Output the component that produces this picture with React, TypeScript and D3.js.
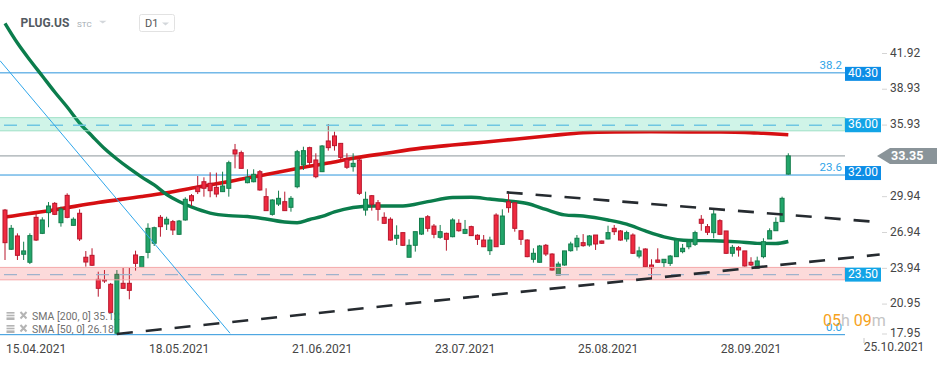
import * as d3 from 'd3';

// daily candles, [open, high, low, close], 08.04.2021 onwards
const candles: number[][] = [
  [28.82, 28.91, 24.64, 26.09], [25.54, 27.57, 25.48, 27.29], [26.65, 26.87, 24.64, 25.03], [25.12, 26.17, 24.64, 25.4],
  [24.45, 26.87, 24.3, 26.68], [28.21, 28.55, 26.23, 26.31], [26.87, 28.21, 26.81, 27.99], [28.6, 29.49, 27.38, 29.16],
  [29.38, 29.49, 28.4, 28.46], [27.76, 29.1, 27.43, 28.91], [30.05, 30.22, 28.13, 28.21], [27.54, 28.21, 27.51, 28.05],
  [28.55, 28.88, 26.23, 26.4], [24.87, 25.39, 24.08, 24.47], [25.03, 25.62, 24.14, 24.2], [23.02, 23.66, 21.57, 22.27],
  [22.97, 23.8, 22.72, 22.93], [22.61, 22.72, 20.2, 20.26], [18.51, 23.8, 18.39, 23.44], [22.69, 23.99, 22.24, 22.27],
  [22.69, 23.97, 21.35, 22.1], [25.06, 25.42, 23.75, 24.36], [24.03, 24.97, 24.0, 24.92], [25.28, 27.71, 24.78, 27.29],
  [26.04, 27.43, 25.81, 27.34], [28.21, 28.4, 26.59, 27.43], [27.65, 28.26, 27.15, 28.05], [27.85, 27.99, 26.73, 27.15],
  [26.79, 27.99, 26.73, 27.9], [27.99, 29.89, 27.93, 29.72], [30.02, 30.16, 29.16, 29.6], [30.77, 31.67, 30.16, 30.36],
  [31.19, 31.56, 29.94, 30.64], [31.06, 31.98, 29.89, 30.44], [30.72, 31.95, 29.89, 30.16], [30.36, 32.03, 30.33, 30.83],
  [30.64, 32.95, 29.94, 32.78], [33.85, 34.35, 32.31, 33.51], [33.62, 33.79, 32.31, 32.31], [31.11, 32.23, 31.06, 31.56],
  [31.19, 32.23, 31.14, 31.81], [32.03, 32.17, 30.44, 30.5], [29.94, 30.64, 28.77, 28.77], [28.46, 29.72, 28.35, 29.66],
  [29.32, 30.44, 29.16, 29.8], [29.52, 30.36, 28.77, 28.77], [29.05, 29.99, 28.68, 29.8], [30.77, 33.85, 30.64, 33.7],
  [32.59, 34.12, 32.17, 33.79], [34.04, 34.12, 32.59, 32.81], [33.01, 33.57, 31.48, 31.61], [32.03, 34.26, 32.0, 34.18],
  [34.6, 36.02, 33.79, 34.04], [35.02, 35.38, 33.79, 34.21], [34.4, 34.4, 33.07, 33.23], [33.07, 33.57, 32.26, 32.4],
  [32.45, 33.57, 32.03, 32.73], [33.01, 33.15, 30.08, 30.22], [28.82, 30.36, 28.35, 29.72], [30.02, 30.08, 28.77, 29.3],
  [29.43, 29.66, 27.93, 28.88], [28.21, 28.63, 27.65, 27.71], [28.05, 28.21, 26.25, 26.31], [26.46, 27.54, 25.9, 26.71],
  [26.93, 26.93, 25.81, 25.87], [24.87, 26.37, 24.87, 25.87], [25.87, 27.01, 25.34, 27.01], [26.81, 28.13, 26.73, 28.13],
  [28.26, 28.4, 27.01, 27.29], [27.48, 27.65, 26.46, 26.79], [26.54, 27.57, 26.42, 27.01], [26.87, 26.93, 25.42, 26.37],
  [26.59, 28.13, 26.54, 27.99], [27.71, 28.05, 27.01, 27.09], [26.87, 27.99, 26.81, 27.2], [27.43, 27.51, 26.65, 26.68],
  [26.71, 26.79, 25.9, 26.37], [26.31, 26.73, 25.75, 25.75], [25.42, 26.59, 25.06, 26.31], [28.4, 28.55, 25.75, 25.75],
  [25.95, 28.88, 25.9, 28.32], [29.52, 30.16, 28.6, 29.02], [29.43, 29.43, 27.01, 27.29], [27.09, 27.15, 25.9, 26.37],
  [26.31, 26.37, 24.87, 24.92], [24.7, 25.62, 24.42, 25.2], [24.45, 25.9, 24.42, 25.81], [25.87, 25.98, 24.97, 25.14],
  [25.14, 25.2, 23.75, 23.8], [23.38, 24.5, 23.38, 24.3], [24.22, 25.4, 24.16, 25.4], [25.42, 26.17, 25.34, 25.98],
  [25.75, 26.73, 25.42, 26.46], [26.09, 26.81, 25.75, 25.84], [25.9, 26.73, 25.75, 26.65], [26.73, 26.73, 25.48, 25.98],
  [26.23, 26.27, 25.98, 26.04], [26.4, 27.51, 26.37, 26.93], [27.29, 27.57, 26.73, 27.01], [27.07, 27.15, 26.25, 26.31],
  [26.4, 27.09, 26.17, 26.93], [26.73, 26.87, 25.14, 25.2], [24.97, 25.75, 24.78, 25.4], [25.56, 25.62, 24.03, 24.08],
  [24.22, 24.7, 23.11, 23.99], [24.64, 25.62, 24.42, 24.45], [24.42, 24.7, 24.03, 24.7], [24.36, 25.06, 24.14, 24.97],
  [24.92, 26.37, 24.92, 26.31], [25.34, 25.98, 25.2, 25.62], [25.75, 26.37, 25.54, 26.17], [25.95, 27.09, 25.81, 26.93],
  [28.05, 28.4, 27.09, 27.71], [27.43, 27.65, 26.73, 26.96], [26.93, 28.82, 26.46, 28.49], [27.93, 28.05, 26.73, 26.79],
  [27.07, 27.07, 25.14, 25.2], [25.2, 25.9, 24.92, 25.7], [25.67, 25.81, 24.92, 25.48], [25.4, 25.4, 24.08, 24.14],
  [24.45, 24.87, 24.14, 24.22], [23.94, 24.92, 23.94, 24.56], [24.92, 26.46, 24.78, 26.17], [26.4, 27.29, 26.4, 27.09],
  [27.09, 28.21, 27.09, 27.79], [27.85, 29.94, 27.85, 29.8], [31.83, 33.57, 31.78, 33.35],
];

// moving averages (bar index -> value)
const sma200Idx = [0, 8, 15, 22, 26, 31, 36, 42, 47, 52, 56, 61, 67, 72, 77, 82, 88, 93, 98, 104, 110, 115, 119, 122, 126];
const sma200Val = [28.24, 28.85, 29.45, 29.95, 30.27, 30.75, 31.2, 31.8, 32.3, 32.75, 33.15, 33.55, 34.0, 34.26, 34.49, 34.75, 35.06, 35.29, 35.36, 35.37, 35.36, 35.35, 35.32, 35.24, 35.12];
const sma50Idx = [0, 2, 4, 6, 8, 10, 12, 14, 16, 18, 20, 22, 24, 26, 28, 30, 33, 36, 39, 42, 45, 47, 49, 51, 53, 56, 59, 64, 68, 72, 75, 78, 81, 84, 87, 90, 93, 97, 100, 103, 106, 110, 114, 118, 121, 124, 126];
const sma50Val = [44.45, 42.8, 41.38, 40.04, 38.7, 37.44, 36.1, 35.02, 33.97, 33.09, 32.3, 31.58, 30.92, 30.12, 29.54, 29.08, 28.57, 28.35, 28.28, 28.07, 27.82, 27.76, 28.03, 28.28, 28.66, 29.03, 29.16, 29.16, 29.52, 29.87, 29.89, 29.74, 29.58, 29.37, 28.87, 28.42, 28.32, 27.99, 27.64, 27.07, 26.58, 26.27, 26.25, 26.16, 26.03, 26.02, 26.19];

// 32.93 sits under the last-price marker in the original, so it is left out
const priceTicks = [17.95, 20.95, 23.94, 26.94, 29.94, 35.93, 38.93, 41.92];
const dateLabels = ['15.04.2021', '18.05.2021', '21.06.2021', '23.07.2021', '25.08.2021', '28.09.2021'];
const dateIdx = [5, 28, 51, 74, 97, 120];

const fibPrices = [40.3, 31.75, 18.39];
const fibNames = ['38.2', '23.6', '0.0'];
const fibBoxes = ['40.30', '32.00', ''];

const zonePrices = [36.0, 23.5];
const zoneHalf = [0.55, 0.52];
const zoneFill = ['rgba(20,200,140,0.2)', 'rgba(240,70,70,0.2)'];
const zoneStroke = ['#9fe0c6', '#f4a9ab'];
const zoneDash = ['#6fc6e2', '#9fb2cc'];

const lastPrice = 33.35;

// trend lines [index, price]
const blueLine = [[-0.8, 41.32], [36.2, 18.51]];
const upperDashed = [[80.7, 30.3], [140.7, 27.8]];
const lowerDashed = [[18, 18.45], [140.7, 25.1]];

const legendRows = ['SMA  [200,  0]  35.12', 'SMA  [50,  0]  26.18'];

export default function App() {
  const W = 950, H = 365;
  const plotR = 881, plotB = 340, boxX = 845;
  const x = d3.scaleLinear().domain([0, candles.length - 1]).range([5, 788.3]);
  const y = d3.scaleLinear().domain([17.945, 46.397]).range([plotB, 0]);
  const font = 'Roboto, "Noto Sans", sans-serif';

  const smaLine = d3.line<number[]>().x(d => x(d[0])).y(d => y(d[1])).curve(d3.curveMonotoneX);
  const sma200 = sma200Idx.map((d, i) => [d, sma200Val[i]]);
  const sma50 = sma50Idx.map((d, i) => [d, sma50Val[i]]);
  const seg = d3.line<number[]>().x(d => x(d[0])).y(d => y(d[1]));

  const green = '#22a56a', greenStroke = '#137c4b';
  const red = '#ef2b40', redStroke = '#b8162c';

  return (
    <div style={{ position: 'absolute', left: 0, top: 0, width: W, height: H, background: '#fff' }}>
      <svg width={W} height={H} style={{ display: 'block', fontFamily: font }}>
        <defs>
          <clipPath id="plot"><rect x={0} y={0} width={plotR} height={plotB} /></clipPath>
        </defs>

        {/* legend under the marks */}
        {legendRows.map((t, i) => {
          const ly = 319.5 + i * 13;
          return (
            <g key={t}>
              <rect x={6.5} y={ly - 7.5} width={8} height={1.6} fill="#b4b4b4" />
              <rect x={6.5} y={ly - 4.8} width={8} height={1.6} fill="#b4b4b4" />
              <rect x={6.5} y={ly - 2.1} width={8} height={2.6} fill="#b4b4b4" />
              <path d={`M20.5,${ly - 7.5}L26.5,${ly - 1}M26.5,${ly - 7.5}L20.5,${ly - 1}`} stroke="#b4b4b4" strokeWidth={2} />
              <text x={32} y={ly} fontSize={10.5} fill="#6f6f6f">{t}</text>
            </g>
          );
        })}

        <g clipPath="url(#plot)">
          {/* fibonacci levels */}
          {fibPrices.map((p, i) => (
            <line key={'f' + i} x1={0} x2={boxX} y1={y(p)} y2={y(p)} stroke="#2b95dc" strokeWidth={1} />
          ))}
          {/* current price line */}
          <line x1={0} x2={boxX} y1={y(lastPrice)} y2={y(lastPrice)} stroke="#8c969b" strokeWidth={1} />

          {/* moving averages */}
          <path d={smaLine(sma200) || ''} fill="none" stroke="#d60f12" strokeWidth={3.6} strokeLinejoin="round" />
          <path d={smaLine(sma50) || ''} fill="none" stroke="#0b7d4c" strokeWidth={3.4} strokeLinejoin="round" />

          {/* candles */}
          {candles.map((c, i) => {
            const [o, h, l, cl] = c;
            const up = cl >= o;
            const cx = x(i);
            const top = y(Math.max(o, cl));
            const bh = Math.max(1, y(Math.min(o, cl)) - top);
            return (
              <g key={i}>
                <line x1={cx} x2={cx} y1={y(h)} y2={y(l)} stroke={up ? greenStroke : redStroke} strokeWidth={1} />
                <rect x={cx - 2} y={top} width={4} height={bh} fill={up ? green : red} stroke={up ? greenStroke : redStroke} strokeWidth={1} />
              </g>
            );
          })}

          {/* zones drawn over the candles */}
          {zonePrices.map((p, i) => (
            <g key={'z' + i}>
              <rect x={-1} y={y(p + zoneHalf[i])} width={boxX + 1} height={y(p - zoneHalf[i]) - y(p + zoneHalf[i])}
                fill={zoneFill[i]} stroke={zoneStroke[i]} strokeWidth={1} />
              <line x1={4} x2={boxX - 3} y1={y(p) + 1} y2={y(p) + 1} stroke={zoneDash[i]} strokeWidth={1.3} strokeDasharray="13,10" />
            </g>
          ))}

          {/* trend lines */}
          <path d={seg(blueLine) || ''} stroke="#2fa6ea" strokeWidth={1} fill="none" />
          <path d={seg(upperDashed) || ''} stroke="#262b30" strokeWidth={2.6} strokeDasharray="16,13" fill="none" />
          <path d={seg(lowerDashed) || ''} stroke="#262b30" strokeWidth={2.6} strokeDasharray="16,13" fill="none" />
        </g>

        {/* fibonacci labels */}
        {fibPrices.map((p, i) => (
          <g key={'fl' + i}>
            <text x={842} y={y(p) - 4} fontSize={11.5} fill="#30a4e8" textAnchor="end">{fibNames[i]}</text>
            {fibBoxes[i] && (
              <g>
                <rect x={boxX} y={y(+fibBoxes[i]) - 6} width={36} height={14} fill="#0c8de6" />
                <text x={boxX + 18} y={y(+fibBoxes[i]) + 1} fontSize={12} fill="#fff" textAnchor="middle" dominantBaseline="middle">{fibBoxes[i]}</text>
              </g>
            )}
          </g>
        ))}
        {zonePrices.map((p, i) => (
          <g key={'zl' + i}>
            <rect x={boxX} y={y(p) - 6} width={36} height={14} fill="#12a4e6" />
            <text x={boxX + 18} y={y(p) + 1} fontSize={12} fill="#fff" textAnchor="middle" dominantBaseline="middle">{p.toFixed(2)}</text>
          </g>
        ))}

        {/* price axis */}
        {priceTicks.map(t => {
          const ty = Math.min(y(t), 334);
          return (
            <g key={t}>
              <line x1={882} x2={887} y1={ty} y2={ty} stroke="#d5d5d5" />
              <text x={890} y={ty} fontSize={12} fill="#454545" dominantBaseline="middle">{t.toFixed(2)}</text>
            </g>
          );
        })}
        <g>
          <path d={`M${plotR - 4},${y(lastPrice)}L${plotR + 9},${y(lastPrice) - 8}H937V${y(lastPrice) + 8}H${plotR + 9}Z`} fill="#8a9499" />
          <text x={891} y={y(lastPrice) + 0.5} fontSize={12.5} fontWeight="bold" fill="#fff" dominantBaseline="middle">{lastPrice.toFixed(2)}</text>
        </g>

        {/* date axis */}
        {dateLabels.map((d, i) => (
          <text key={d} x={x(dateIdx[i])} y={352.5} fontSize={12} fill="#454545" textAnchor="middle">{d}</text>
        ))}
        <line x1={864} x2={864} y1={338} y2={343} stroke="#c8c8c8" />
        <text x={894} y={351} fontSize={12} fill="#454545" textAnchor="middle">25.10.2021</text>

        {/* countdown */}
        <text x={823} y={325.5} fontSize={16}>
          <tspan fill="#f6a21c">05</tspan><tspan fill="#c4c4c4">h </tspan>
          <tspan fill="#f6a21c">09</tspan><tspan fill="#c4c4c4">m</tspan>
        </text>

        {/* header */}
        <text x={20.5} y={26.5} fontSize={12} fontWeight="bold" fill="#535a61">PLUG.US</text>
        <text x={77} y={26.5} fontSize={8} fill="#a3abb2">STC</text>
        <path d="M99,20.8H106.5L102.75,23.6Z" fill="#d3d7db" />
        <rect x={139.5} y={14.5} width={35} height={17} rx={2} fill="#fff" stroke="#e2e2e2" />
        <text x={145} y={26.5} fontSize={11} fill="#555">D1</text>
        <path d="M162,22.6H169L165.5,25.4Z" fill="#d3d7db" />
      </svg>
    </div>
  );
}
